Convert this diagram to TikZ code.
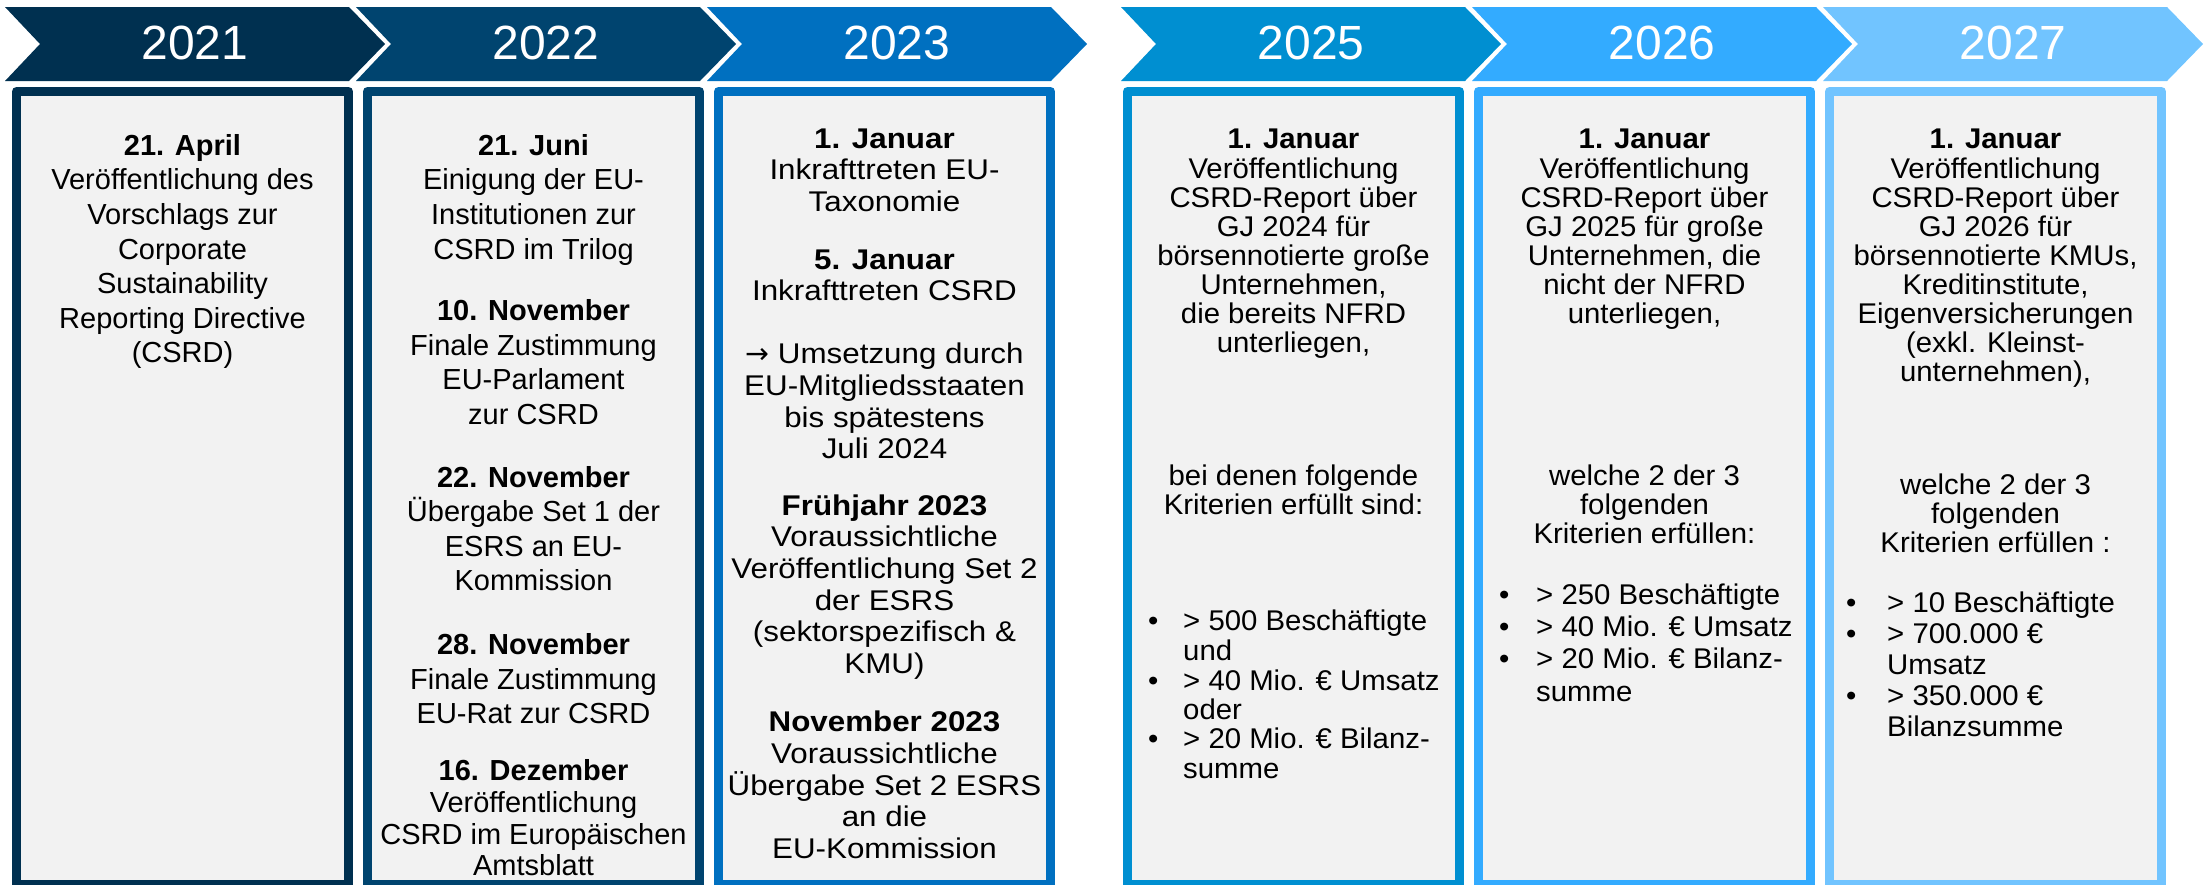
\documentclass[tikz,border=0pt]{standalone}
\usepackage{fontspec}
\setmainfont{Liberation Sans}
\newfontfamily\widesans[FakeStretch=1.1]{Liberation Sans}
\newfontfamily\wideplus[FakeStretch=1.03]{Liberation Sans}
\newfontfamily\arrowfont{DejaVu Sans}
\usepackage{tikz}

\definecolor{navy21}{HTML}{003050}
\definecolor{navy22}{HTML}{00446F}
\definecolor{blue23}{HTML}{0070C0}
\definecolor{blue25}{HTML}{008FD1}
\definecolor{blue26}{HTML}{33ABFF}
\definecolor{blue27}{HTML}{71C4FF}
\definecolor{boxgray}{HTML}{F2F2F2}

\begin{document}
\begin{tikzpicture}[x=1pt,y=-1pt,
  yearlabel/.style={text=white,inner sep=0pt,font=\fontsize{48}{48}\selectfont},
  yearbox/.style={draw=#1,fill=boxgray,line width=9pt,line join=round,
    minimum width=332pt,minimum height=793pt,inner sep=0pt},
  oldtext/.style={anchor=north,align=center,inner sep=0pt,
    font=\fontsize{29}{34.6}\selectfont},
  widetext/.style={anchor=north,align=center,inner sep=0pt,
    font=\widesans\fontsize{28.5}{31.6}\selectfont},
  newtext/.style={anchor=north,align=center,inner sep=0pt,
    font=\wideplus\fontsize{28.5}{29}\selectfont},
  bulletlist/.style={anchor=north west,align=left,inner sep=0pt,
    font=\wideplus\fontsize{28.5}{#1}\selectfont}]
\useasboundingbox (0,0) rectangle (2208,884);
\clip (0,0) rectangle (2208,884);

% chevrons
\fill[navy21] (5,7) -- (349,7) -- (385,44) -- (349,81) -- (5,81) -- (40,44) -- cycle;
\fill[navy22] (356,7) -- (700,7) -- (736,44) -- (700,81) -- (356,81) -- (391,44) -- cycle;
\fill[blue23] (707,7) -- (1051,7) -- (1087,44) -- (1051,81) -- (707,81) -- (742,44) -- cycle;
\fill[blue25] (1121,7) -- (1465,7) -- (1501,44) -- (1465,81) -- (1121,81) -- (1156,44) -- cycle;
\fill[blue26] (1472,7) -- (1816,7) -- (1852,44) -- (1816,81) -- (1472,81) -- (1507,44) -- cycle;
\fill[blue27] (1823,7) -- (2167,7) -- (2203,44) -- (2167,81) -- (1823,81) -- (1858,44) -- cycle;

\node[yearlabel] (y2021) at (195,43) {2021};
\node[yearlabel] (y2022) at (546,43) {2022};
\node[yearlabel] (y2023) at (897,43) {2023};
\node[yearlabel] (y2025) at (1311,43) {2025};
\node[yearlabel] (y2026) at (1662,43) {2026};
\node[yearlabel] (y2027) at (2013,43) {2027};

% boxes
\node[yearbox=navy21] (box2021) at (182.5,488) {};
\node[yearbox=navy22] (box2022) at (533.5,488) {};
\node[yearbox=blue23] (box2023) at (884.5,488) {};
\node[yearbox=blue25] (box2025) at (1293.5,488) {};
\node[yearbox=blue26] (box2026) at (1644.5,488) {};
\node[yearbox=blue27] (box2027) at (1995.5,488) {};

% texts
\node[oldtext] (txt2021) at (182.5,130.8) {\strut\textbf{21. April}\\
  Veröffentlichung des\\ Vorschlags zur\\ Corporate\\ Sustainability\\
  Reporting Directive\\ (CSRD)};

\node[oldtext] (txt2022) at (533.5,130.8) {\strut\textbf{21. Juni}\\
  Einigung der EU-\\ Institutionen zur\\ CSRD im Trilog\\[27pt]
  \textbf{10. November}\\ Finale Zustimmung\\ EU-Parlament\\ zur CSRD\\[28pt]
  \textbf{22. November}\\ Übergabe Set 1 der\\ ESRS an EU-\\ Kommission\\[29pt]
  \textbf{28. November}\\ Finale Zustimmung\\ EU-Rat zur CSRD\\[22pt]
  \textbf{16. Dezember}\\[-2pt] Veröffentlichung\\[-3pt]
  CSRD im Europäischen\\[-4pt] Amtsblatt};

\node[widetext] (txt2023) at (884.5,125.9) {\strut\textbf{1. Januar}\\
  Inkrafttreten EU-\\ Taxonomie\\[26pt]
  \textbf{5. Januar}\\ Inkrafttreten CSRD\\[31.6pt]
  {\arrowfont →} Umsetzung durch\\ EU-Mitgliedsstaaten\\ bis spätestens\\ Juli 2024\\[25pt]
  \textbf{Frühjahr 2023}\\ Voraussichtliche\\ Veröffentlichung Set 2\\
  der ESRS\\ (sektorspezifisch \&\\ KMU)\\[27pt]
  \textbf{November 2023}\\ Voraussichtliche\\ Übergabe Set 2 ESRS\\
  an die\\ EU-Kommission};

\node[newtext] (txt2025) at (1293.5,127.7) {\strut\textbf{1. Januar}\\
  Veröffentlichung\\ CSRD-Report über\\ GJ 2024 für\\ börsennotierte große\\
  Unternehmen,\\ die bereits NFRD\\ unterliegen,\\[103.6pt]
  bei denen folgende\\ Kriterien erfüllt sind:};
\node[bulletlist=29.3] (crit2025) at (1148,609.5) {\strut
  \makebox[35pt][l]{\textbullet}> 500 Beschäftigte\\ \hspace*{35pt}und\\
  \makebox[35pt][l]{\textbullet}> 40 Mio. € Umsatz\\ \hspace*{35pt}oder\\
  \makebox[35pt][l]{\textbullet}> 20 Mio. € Bilanz-\\ \hspace*{35pt}summe};

\node[newtext] (txt2026) at (1644.5,127.7) {\strut\textbf{1. Januar}\\
  Veröffentlichung\\ CSRD-Report über\\ GJ 2025 für große\\ Unternehmen, die\\
  nicht der NFRD\\ unterliegen,\\[133pt]
  welche 2 der 3\\ folgenden\\ Kriterien erfüllen:};
\node[bulletlist=32.4] (crit2026) at (1499,581.3) {\strut
  \makebox[37pt][l]{\textbullet}> 250 Beschäftigte\\
  \makebox[37pt][l]{\textbullet}> 40 Mio. € Umsatz\\
  \makebox[37pt][l]{\textbullet}> 20 Mio. € Bilanz-\\ \hspace*{37pt}summe};

\node[newtext] (txt2027) at (1995.5,127.7) {\strut\textbf{1. Januar}\\
  Veröffentlichung\\ CSRD-Report über\\ GJ 2026 für\\ börsennotierte KMUs,\\
  Kreditinstitute,\\ Eigenversicherungen\\ (exkl. Kleinst-\\ unternehmen),\\[84pt]
  welche 2 der 3\\ folgenden\\ Kriterien erfüllen :};
\node[bulletlist=31] (crit2027) at (1846,590.3) {\strut
  \makebox[41pt][l]{\textbullet}> 10 Beschäftigte\\
  \makebox[41pt][l]{\textbullet}> 700.000 €\\ \hspace*{41pt}Umsatz\\
  \makebox[41pt][l]{\textbullet}> 350.000 €\\ \hspace*{41pt}Bilanzsumme};
\end{tikzpicture}
\end{document}
